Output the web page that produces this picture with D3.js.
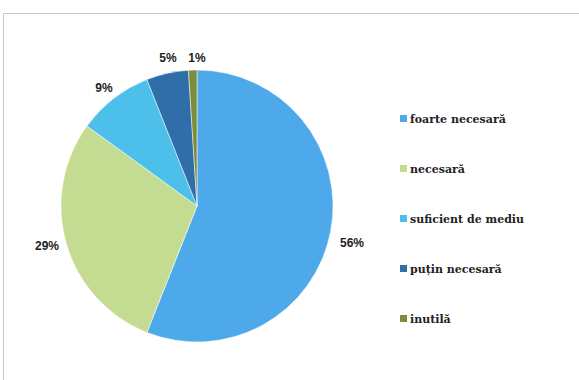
<!DOCTYPE html>
<html><head><meta charset="utf-8">
<script src="https://cdn.jsdelivr.net/npm/d3@7"></script>
<style>body{margin:0;background:#fff}</style>
</head><body>
<svg id="c" width="579" height="380"></svg>
<script>
const categories = ["foarte necesară","necesară","suficient de mediu","puțin necesară","inutilă"];
const values = [56, 29, 9, 5, 1];
const labels = ["56%","29%","9%","5%","1%"];
const colors = ["#4ea9ea","#c3dc92","#4cc0ea","#2f6ea8","#7d8c3c"];

const svg = d3.select("#c");
svg.append("rect").attr("x",3.5).attr("y",13.5).attr("width",580).attr("height",380)
  .attr("fill","#fff").attr("stroke","#c8c8d0").attr("stroke-width",1);

const cx=197, cy=206, r=136;
const pie = d3.pie().sort(null).value(d=>d)(values);
const arc = d3.arc().innerRadius(0).outerRadius(r);
const g = svg.append("g").attr("transform",`translate(${cx},${cy})`);
g.selectAll("path").data(pie).join("path").attr("d",arc)
  .attr("fill",(d,i)=>colors[i]).attr("stroke","#fff").attr("stroke-width",0.5);

const labelPos = [[352,243],[47,246],[104,88],[168,58],[197,58]];
svg.selectAll("text.lbl").data(labels).join("text").attr("class","lbl")
  .attr("x",(d,i)=>labelPos[i][0]).attr("y",(d,i)=>labelPos[i][1]+4)
  .attr("text-anchor","middle").attr("font-family","Liberation Sans, Arial, sans-serif")
  .attr("font-weight","bold").attr("font-size",12).attr("fill","#222").text(d=>d);

const ly = d3.scalePoint().domain(categories).range([118,318]);
const lg = svg.append("g");
lg.selectAll("rect").data(categories).join("rect")
  .attr("x",400).attr("y",d=>ly(d)-3).attr("width",7).attr("height",7)
  .attr("fill",(d,i)=>colors[i]);
lg.selectAll("text").data(categories).join("text")
  .attr("x",410).attr("y",d=>ly(d)+4.5)
  .attr("font-family","DejaVu Serif, serif").attr("font-weight","bold")
  .attr("font-size",11).attr("fill","#222").text(d=>d);
</script>
</body></html>
